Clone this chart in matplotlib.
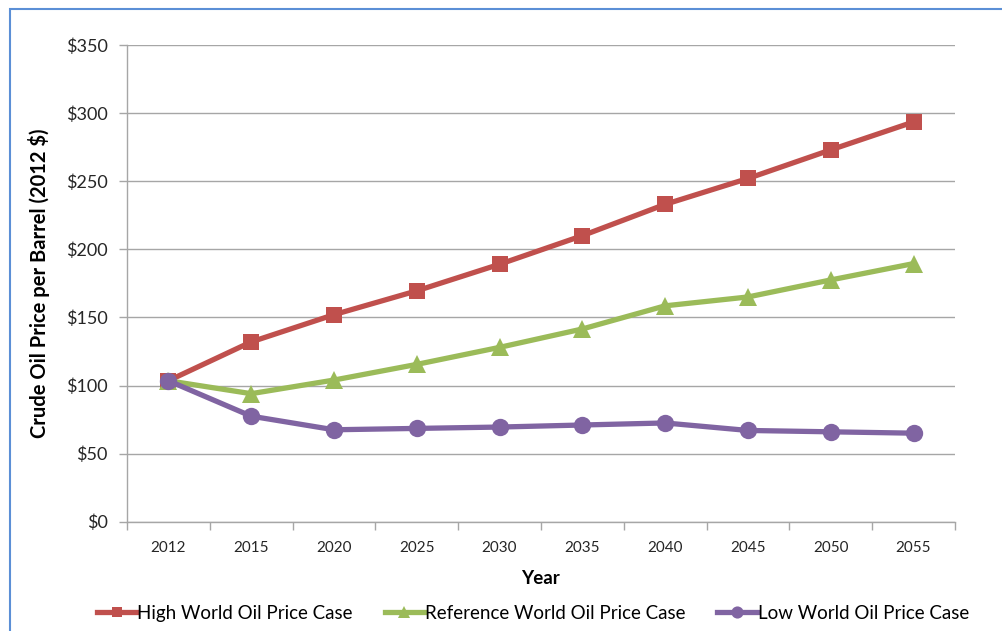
import matplotlib
matplotlib.use("Agg")
import matplotlib.pyplot as plt
from matplotlib.patches import Rectangle
from matplotlib.ticker import FuncFormatter, MultipleLocator
import numpy as np

plt.rcParams['font.family'] = ['Lato', 'DejaVu Sans']

years = ["2012", "2015", "2020", "2025", "2030", "2035", "2040", "2045", "2050", "2055"]
high_case = [103.5, 132, 152, 169.5, 189, 210, 233, 252, 273, 293.5]
reference_case = [103.5, 94, 104, 115.5, 128, 141.5, 158.5, 165, 177.5, 189.5]
low_case = [103.5, 77.5, 67.5, 68.5, 69.5, 71, 72.5, 67, 66, 65]

series = [
    ("High World Oil Price Case", high_case, "#C0504D", "s", 11),
    ("Reference World Oil Price Case", reference_case, "#9BBB59", "^", 12.5),
    ("Low World Oil Price Case", low_case, "#8064A2", "o", 12.5),
]

fig = plt.figure(figsize=(10.02, 6.31), dpi=100)
ax = fig.add_axes([0.1267, 0.1732, 0.8263, 0.7555])

x = np.arange(len(years))
for label, values, color, marker, ms in series:
    ax.plot(x, values, color=color, linewidth=3.8, marker=marker,
            markersize=ms, markeredgewidth=0, label=label, zorder=3,
            solid_joinstyle="round")

grid_color = "#A6A6A6"
ax.set_ylim(0, 350)
ax.set_xlim(-0.5, len(years) - 0.5)
ax.yaxis.set_major_locator(MultipleLocator(50))
ax.yaxis.set_major_formatter(FuncFormatter(lambda v, p: f"${v:.0f}"))
ax.grid(axis="y", color=grid_color, linewidth=1.0, zorder=0)
ax.set_axisbelow(True)

# Category labels centred between boundary ticks
ax.set_xticks(x)
ax.set_xticklabels(years, fontsize=11, color="#262626")
ax.set_xticks(np.arange(-0.5, len(years)), minor=True)
ax.tick_params(axis="x", which="major", length=0, pad=14)
ax.tick_params(axis="x", which="minor", length=6, color=grid_color, width=1.0)
ax.tick_params(axis="y", which="major", length=6, color=grid_color, width=1.0,
               labelsize=13, pad=8, labelcolor="#262626")

for side in ("top", "right"):
    ax.spines[side].set_visible(False)
for side in ("left", "bottom"):
    ax.spines[side].set_color(grid_color)
    ax.spines[side].set_linewidth(1.0)

ax.set_xlabel("Year", fontsize=13.5, fontweight="bold", labelpad=11, color="#000000")
ax.set_ylabel("Crude Oil Price per Barrel (2012 $)", fontsize=14.5,
              fontweight="bold", labelpad=11, color="#000000")

fig.legend(loc="center", bbox_to_anchor=(0.532, 0.0285), ncol=3, frameon=False,
           fontsize=13.5, handlelength=2.1, handletextpad=0.05, columnspacing=1.7,
           markerscale=0.7)

# Chart frame
fig.patches.append(Rectangle((10 / 1002, -0.1), 1.2, (631 - 9) / 631 + 0.1,
                             transform=fig.transFigure, fill=False,
                             edgecolor="#5B8FD6", linewidth=1.5))

fig.savefig("out.png", dpi=100)
